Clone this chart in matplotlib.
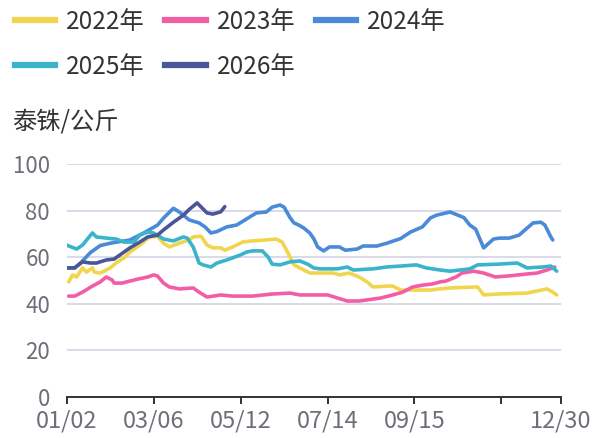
import matplotlib
matplotlib.use("Agg")
import matplotlib.pyplot as plt
from matplotlib.lines import Line2D

plt.rcParams['font.family'] = ['Noto Sans CJK SC', 'DejaVu Sans']

# ---- data (x = trading-day category index, 0..250) ----
tick_idx = [0, 44, 88, 132, 176, 220, 250]
tick_labels = ["01/02", "03/06", "05/12", "07/14", "09/15", "", "12/30"]
n_categories = 251

x2022 = [1, 3, 5, 8, 10, 13, 14, 17, 22, 25, 29, 32, 37, 42, 46, 49, 52, 57, 62, 64,
         68, 71, 74, 78, 80, 84, 89, 94, 101, 106, 109, 112, 115, 120, 123, 128, 135, 138, 143, 148,
         152, 155, 162, 165, 169, 175, 184, 189, 194, 206, 208, 211, 218, 233, 238, 243, 246, 248]
y2022 = [49.4, 52.4, 51.5, 55.4, 53.6, 55.4, 53.6, 53.2, 55.4, 57.5,
         59.7, 62.2, 65.2, 68.7, 69, 66, 64.4, 66, 67.4, 68.7,
         69, 65.2, 64, 64, 63, 64.4, 66.5, 67, 67.4, 67.8,
         66.5, 61.8, 56.7, 54.5, 53.2, 53.2, 53.2, 52.4, 53.2, 51.5,
         49.4, 47.2, 47.6, 47.6, 45.9, 45.9, 45.9, 46.4, 46.8, 47.2,
         47.2, 43.8, 44.2, 44.6, 45.5, 46.4, 45, 43.8]

x2023 = [1, 4, 8, 13, 17, 20, 23, 24, 28, 36, 41, 44, 46, 49, 52, 57, 64, 67, 71, 78,
         84, 94, 104, 113, 118, 132, 137, 142, 148, 159, 165, 170, 175, 180, 185, 189, 192, 197, 200, 206,
         211, 217, 224, 233, 238, 243, 247]
y2023 = [43.3, 43.3, 45, 47.6, 49.4, 51.5, 50.2, 48.9, 48.9, 50.6,
         51.5, 52.4, 51.9, 48.9, 47.2, 46.4, 46.8, 45, 42.9, 43.8,
         43.3, 43.3, 44.2, 44.6, 43.8, 43.8, 42.5, 41.2, 41.2, 42.5,
         43.8, 45, 47.2, 48, 48.5, 49.4, 49.8, 51.5, 53.2, 54,
         53.2, 51.5, 52, 52.8, 53.2, 54.5, 55.8]

x2024 = [0, 4, 7, 12, 17, 22, 32, 39, 46, 49, 54, 57, 62, 67, 70, 73, 76, 81, 86, 91,
         96, 101, 104, 108, 110, 113, 115, 117, 120, 123, 125, 127, 130, 133, 138, 141, 147, 150, 157, 162,
         169, 174, 180, 184, 187, 194, 201, 204, 207, 211, 216, 219, 224, 229, 233, 236, 240, 242, 245, 246]
y2024 = [55.4, 55.4, 57.5, 62, 65, 66, 67.4, 70.4, 73.8, 76.8,
         81, 79.4, 76, 74.7, 73, 70.4, 71, 73, 73.8, 76.4,
         79, 79.4, 81.5, 82.4, 81.5, 77, 74.7, 74, 72.5, 70.4,
         68, 64.4, 62.7, 64.4, 64.4, 63, 63.5, 64.8, 64.8, 66,
         68, 70.8, 73, 76.8, 78, 79.4, 77, 73.8, 72, 64,
         67.8, 68.2, 68.2, 69.5, 72.5, 74.7, 75, 73.8, 68.7, 67.4]

x2025 = [0, 5, 8, 13, 15, 20, 25, 29, 34, 37, 41, 44, 49, 54, 59, 61, 64, 67, 69, 73,
         76, 81, 88, 91, 94, 99, 102, 104, 108, 113, 118, 122, 125, 128, 137, 142, 145, 155, 162, 169,
         177, 182, 189, 194, 204, 208, 218, 228, 233, 241, 245, 248]
y2025 = [65.2, 63.5, 65.2, 70.4, 68.7, 68.2, 67.8, 66.5, 66.5, 69.5,
         70.8, 70.4, 67.8, 67, 68.7, 68.2, 64.4, 57.5, 56.7, 55.8,
         57.5, 58.8, 61, 62.2, 62.7, 62.7, 60, 57, 56.7, 58,
         58.4, 57, 55.4, 55, 55, 55.8, 54.5, 55, 55.8, 56.2,
         56.7, 55.4, 54.5, 54, 55, 56.7, 57, 57.5, 55.4, 55.8,
         56.2, 54]

x2026 = [0, 4, 8, 12, 15, 20, 24, 27, 32, 37, 41, 46, 49, 54, 59, 62, 66, 71, 74, 78, 80]
y2026 = [55.4, 55.4, 58, 57.5, 57.5, 58.8, 59.2, 61, 64, 66.5,
         68.7, 69.5, 71.7, 75, 78, 80.5, 83.3, 79, 78.5, 79.5, 81.7]

series = [
    ("2022年", x2022, y2022, "#F2D54F"),
    ("2023年", x2023, y2023, "#F25EA5"),
    ("2024年", x2024, y2024, "#4A8AD6"),
    ("2025年", x2025, y2025, "#3AB4CA"),
    ("2026年", x2026, y2026, "#4B5699"),
]

# ---- figure ----
W, H = 597, 438
fig = plt.figure(figsize=(W / 100, H / 100), dpi=100)
ax = fig.add_axes([66.7 / W, 1 - 397 / H, (560.7 - 66.7) / W, (397 - 164) / H])

for name, xs, ys, c in series:
    ax.plot(xs, ys, color=c, lw=2.6, solid_joinstyle='round', solid_capstyle='round',
            label=name, zorder=3)

ax.set_xlim(0, n_categories - 1)
ax.set_ylim(0, 100)
ax.set_yticks([0, 20, 40, 60, 80, 100])
ax.set_xticks(tick_idx)
ax.set_xticklabels(tick_labels)

for s in ['top', 'right', 'left']:
    ax.spines[s].set_visible(False)
ax.spines['bottom'].set_color('#333333')
ax.spines['bottom'].set_linewidth(1.4)
ax.spines['bottom'].set_zorder(4)

ax.yaxis.grid(True, color='#D5D9E6', lw=1.3, zorder=0)
ax.set_axisbelow(True)
ax.tick_params(axis='y', length=0, pad=12, labelsize=16, labelcolor='#6E7079')
ax.tick_params(axis='x', length=5, width=1.4, color='#333333', pad=4,
               labelsize=17, labelcolor='#6E7079')

fig.text(12 / W, 1 - 122 / H, "泰铢/公斤", fontsize=17.5, color='#333333',
         ha='left', va='center')

# legend in row-major order: 2022 2023 2024 / 2025 2026
handles = [Line2D([0], [0], color=c, lw=4.5) for _, _, _, c in series]
labels = [n for n, _, _, _ in series]
order = [0, 3, 1, 4, 2]
leg = fig.legend([handles[i] for i in order], [labels[i] for i in order],
                 ncol=3, loc='upper left', bbox_to_anchor=(15 / W, 1 - 9 / H),
                 frameon=False, fontsize=17.5, handlelength=1.65, handletextpad=0.45,
                 columnspacing=0.85, labelspacing=0.77, borderpad=0, borderaxespad=0)
for t in leg.get_texts():
    t.set_color('#333333')

fig.savefig("out.png", dpi=100)
